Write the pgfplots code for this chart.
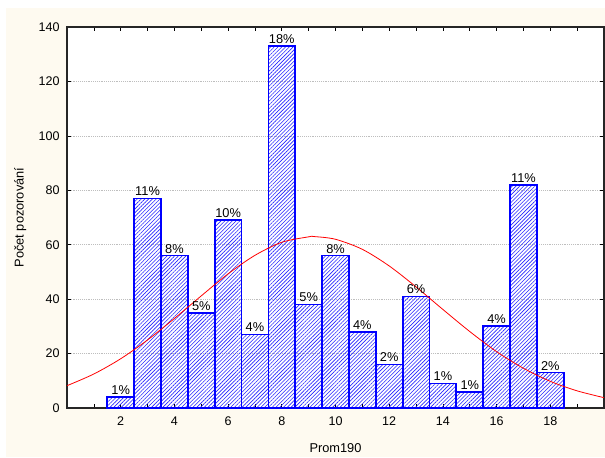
\documentclass[border=0pt]{standalone}
\usepackage{fontspec}
\setmainfont{Liberation Sans}
\usepackage{pgfplots}
\pgfplotsset{compat=1.18}
\usetikzlibrary{patterns.meta}
\definecolor{cream}{RGB}{254,250,240}
\definecolor{gridg}{RGB}{190,190,190}
\begin{document}
\begin{tikzpicture}
\useasboundingbox (0,0) rectangle (453.75pt,342.75pt);
\fill[white] (0,0) rectangle (453.75pt,342.75pt);
\fill[cream] (4.5pt,0) rectangle (453.75pt,336.75pt);
\begin{axis}[
  at={(50.25pt,36.75pt)}, anchor=south west,
  scale only axis, width=402.75pt, height=285.75pt,
  axis background/.style={fill=white},
  xmin=0, xmax=20, ymin=0, ymax=140,
  xtick={2,4,...,18}, minor xtick={1,3,...,19},
  ytick={0,20,...,140},
  tick align=inside,
  major tick length=3pt, minor tick length=3pt,
  tick style={black, line width=0.5pt},
  ymajorgrids, grid style={gridg, densely dotted, line width=0.4pt},
  axis line style={black!85, line width=0.8pt},
  /pgf/number format/assume math mode=true,
  tick label style={font=\fontsize{9.4}{11}\selectfont},
  xlabel={Prom190}, ylabel={Počet pozorování},
  label style={font=\fontsize{9.6}{11}\selectfont},
  xlabel style={at={(axis description cs:0.5,0)}, anchor=center, yshift=-30pt},
  ylabel style={at={(axis description cs:-0.087,0.5)}, anchor=center},
  xticklabel style={yshift=-3pt},
  yticklabel style={xshift=-2pt},
  clip=false,
]
\addplot[ybar, bar width=1, draw=blue, line width=1.3pt,
  pattern={Lines[angle=45,distance=2pt,line width=0.45pt]}, pattern color=blue!85,
  point meta=explicit,
  nodes near coords={\pgfmathprintnumber{\pgfplotspointmeta}\%},
  every node near coord/.append style={font=\fontsize{9.6}{11}\selectfont, black, anchor=south, inner sep=1.2pt},
] table[meta=p] {
x y p
2 4 1
3 77 11
4 56 8
5 35 5
6 69 10
7 27 4
8 133 18
9 38 5
10 56 8
11 28 4
12 16 2
13 41 6
14 9 1
15 6 1
16 30 4
17 82 11
18 13 2
};
\addplot[red, line width=0.6pt, smooth, no marks] coordinates {
(0,8.2) (1,12.5) (2,18.1) (3,25.0) (4,32.9) (5,41.2) (6,49.3) (7,56.1) (8,60.9)
(9,62.9) (9.2,63.0) (10,62.0) (11,58.3) (12,52.2) (13,44.5) (14,36.2) (15,28.1)
(16,20.7) (17,14.6) (18,9.8) (19,6.3) (20,3.8)
};
\end{axis}
\end{tikzpicture}
\end{document}
